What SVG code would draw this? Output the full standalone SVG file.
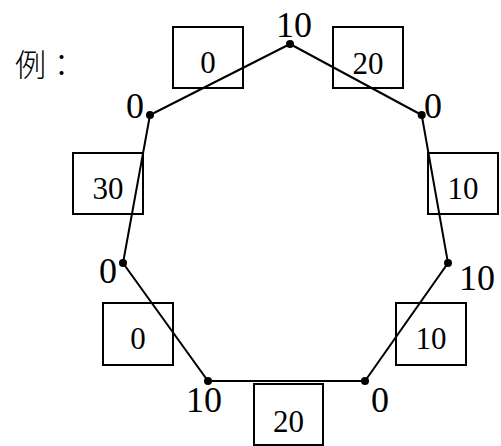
<svg xmlns="http://www.w3.org/2000/svg" width="501" height="446" viewBox="0 0 501 446">
<style>
.box{fill:none;stroke:#000;stroke-width:2}
.edge{fill:none;stroke:#000;stroke-width:2}
.dot{fill:#000}
.vl{font-family:"Liberation Serif","Times New Roman",serif;font-size:36px;fill:#000}
.bl{font-family:"Liberation Serif","Times New Roman",serif;font-size:31px;fill:#000;text-anchor:middle}
.cjk{font-family:"Noto Sans CJK TC","Noto Sans CJK SC",serif;font-size:31px;font-weight:300;fill:#000}
</style>
<rect width="501" height="446" fill="#fff"/>
<text class="cjk" x="15" y="76">例：</text>
<g id="connectors">
<polyline class="edge" points="290,44 421.7,115 448,263 365,381 208,381 123,263 150,115 290,44"/>
</g>
<g id="v1"><circle class="dot" cx="290" cy="44" r="4"/><text class="vl" x="276" y="37">10</text></g>
<g id="v2"><circle class="dot" cx="421.7" cy="115" r="4"/><text class="vl" x="424" y="118">0</text></g>
<g id="v3"><circle class="dot" cx="448" cy="263" r="4"/><text class="vl" x="459" y="290">10</text></g>
<g id="v4"><circle class="dot" cx="365" cy="381" r="4"/><text class="vl" x="371" y="412">0</text></g>
<g id="v5"><circle class="dot" cx="208" cy="381" r="4"/><text class="vl" x="186" y="412">10</text></g>
<g id="v6"><circle class="dot" cx="123" cy="263" r="4"/><text class="vl" x="99" y="283">0</text></g>
<g id="v7"><circle class="dot" cx="150" cy="115" r="4"/><text class="vl" x="126" y="118">0</text></g>
<g id="b1"><rect class="box" x="173" y="27" width="70" height="61"/><text class="bl" x="208" y="73">0</text></g>
<g id="b2"><rect class="box" x="333" y="27" width="70" height="61"/><text class="bl" x="368" y="74">20</text></g>
<g id="b3"><rect class="box" x="428" y="153" width="70" height="61"/><text class="bl" x="463" y="199">10</text></g>
<g id="b4"><rect class="box" x="396" y="303" width="70" height="62"/><text class="bl" x="431" y="349">10</text></g>
<g id="b5"><rect class="box" x="254" y="384" width="69" height="61"/><text class="bl" x="288.5" y="432">20</text></g>
<g id="b6"><rect class="box" x="103" y="303" width="70" height="62"/><text class="bl" x="138" y="349">0</text></g>
<g id="b7"><rect class="box" x="73" y="153" width="70" height="61"/><text class="bl" x="108" y="199">30</text></g>
</svg>
